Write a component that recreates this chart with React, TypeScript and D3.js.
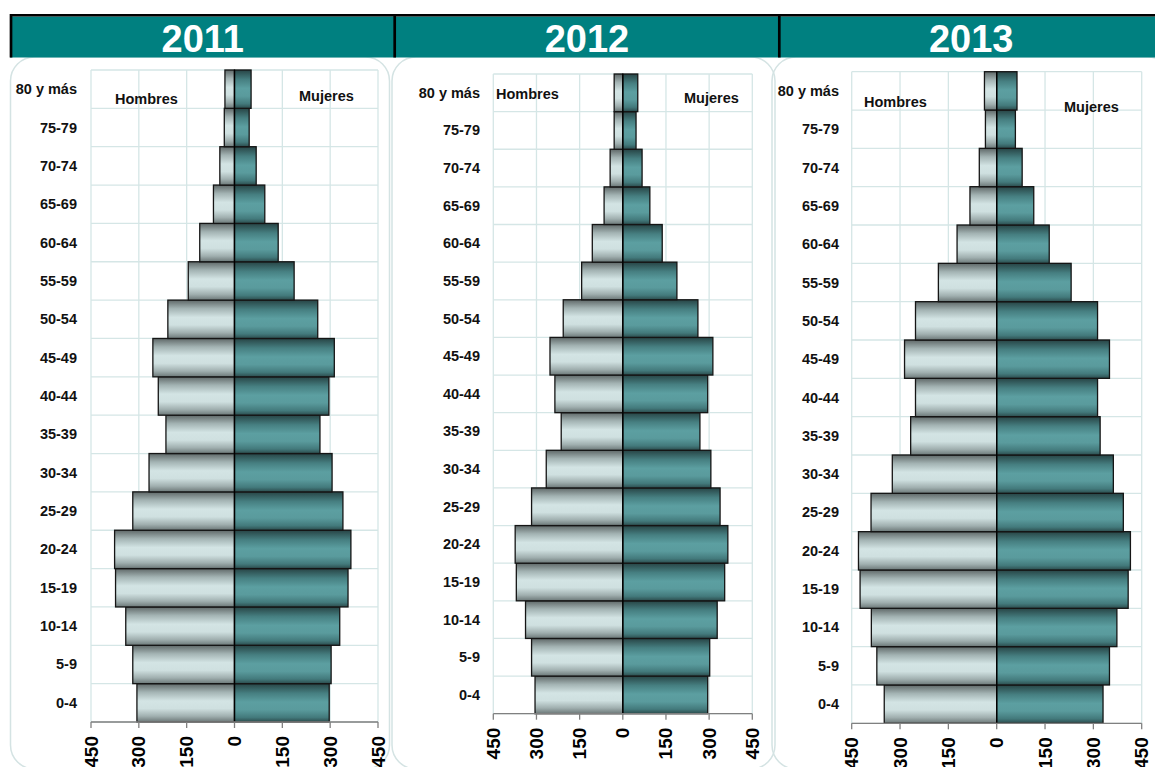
import React from "react";
import * as d3 from "d3";

const ages = ["0-4","5-9","10-14","15-19","20-24","25-29","30-34","35-39","40-44","45-49","50-54","55-59","60-64","65-69","70-74","75-79","80 y más"];

const years = ["2011", "2012", "2013"];

const men2011 = [306, 319, 341, 373, 376, 319, 268, 215, 239, 256, 209, 145, 109, 66, 46, 32, 30];
const women2011 = [297, 303, 330, 356, 365, 340, 306, 268, 296, 313, 261, 187, 137, 95, 68, 46, 52];

const men2012 = [305, 317, 338, 370, 374, 317, 266, 214, 236, 253, 207, 143, 106, 65, 44, 30, 30];
const women2012 = [295, 302, 328, 354, 365, 338, 306, 268, 295, 313, 261, 188, 137, 94, 67, 46, 52];

const men2013 = [349, 372, 389, 424, 429, 390, 324, 267, 252, 286, 252, 181, 123, 83, 54, 35, 38];
const women2013 = [330, 350, 373, 408, 415, 393, 362, 321, 313, 350, 313, 231, 163, 115, 79, 58, 63];

const tickValues = [-450, -300, -150, 0, 150, 300, 450];

const menLabel = "Hombres";
const womenLabel = "Mujeres";

const FONT = "'Liberation Sans', Arial, Helvetica, sans-serif";
const TEAL = "#008080";
const GRID = "#d5e6e6";

interface PanelLayout {
  x0: number; x1: number; top: number; bottom: number;
  labelX: number;
  hx: number; hy: number; mx: number; my: number;
  bx: number; bw: number;
  hdrX0: number; hdrX1: number;
}

const layouts: PanelLayout[] = [
  { x0: 91, x1: 378, top: 70, bottom: 722, labelX: 77, hx: 115, hy: 104, mx: 299, my: 101, bx: 10.5, bw: 379, hdrX0: 12, hdrX1: 393.5 },
  { x0: 493.3, x1: 752.3, top: 74, bottom: 713.7, labelX: 480, hx: 496, hy: 99, mx: 684, my: 103, bx: 392, bw: 383, hdrX0: 396, hdrX1: 778 },
  { x0: 851.7, x1: 1141.7, top: 71.7, bottom: 723.3, labelX: 839, hx: 864, hy: 107, mx: 1064, my: 112, bx: 772, bw: 400, hdrX0: 780.5, hdrX1: 1162 },
];

const menSeries = [men2011, men2012, men2013];
const womenSeries = [women2011, women2012, women2013];

function Panel({ idx }: { idx: number }) {
  const L = layouts[idx];
  const men = menSeries[idx];
  const women = womenSeries[idx];
  const x = d3.scaleLinear().domain([-450, 450]).range([L.x0, L.x1]);
  const y = d3.scaleBand<string>().domain([...ages].reverse()).range([L.top, L.bottom]).padding(0);
  const bw = y.bandwidth();
  const rowEdges = d3.range(ages.length + 1).map((i) => L.top + i * bw);
  return (
    <g>
      {/* grid */}
      {rowEdges.map((yy, i) => (
        <line key={"h" + i} x1={L.x0} x2={L.x1} y1={yy} y2={yy} stroke={GRID} strokeWidth={1.3} />
      ))}
      {tickValues.map((t) => (
        <line key={"v" + t} x1={x(t)} x2={x(t)} y1={L.top} y2={L.bottom} stroke={GRID} strokeWidth={1.3} />
      ))}
      {/* bars */}
      {ages.map((a, i) => (
        <g key={a}>
          <rect x={x(-men[i])} y={y(a)} width={x(0) - x(-men[i])} height={bw}
            fill="url(#gMen)" stroke="#151515" strokeWidth={1.3} />
          <rect x={x(0)} y={y(a)} width={x(women[i]) - x(0)} height={bw}
            fill="url(#gWomen)" stroke="#151515" strokeWidth={1.3} />
        </g>
      ))}
      <line x1={x(0)} x2={x(0)} y1={L.top} y2={L.bottom} stroke="#000" strokeWidth={1.3} />
      {/* axis */}
      <line x1={L.x0} x2={L.x1} y1={L.bottom} y2={L.bottom} stroke="#808080" strokeWidth={1.3} />
      {tickValues.map((t) => (
        <g key={"t" + t}>
          <line x1={x(t)} x2={x(t)} y1={L.bottom} y2={L.bottom + 6} stroke="#808080" strokeWidth={1.3} />
          <text transform={`translate(${x(t)},${L.bottom + 14}) rotate(-90)`} textAnchor="end"
            dominantBaseline="central" fontFamily={FONT} fontWeight="bold" fontSize={19} fill="#000">
            {d3.format("d")(Math.abs(t))}
          </text>
        </g>
      ))}
      {/* age labels */}
      {ages.map((a) => (
        <text key={"l" + a} x={L.labelX} y={(y(a) as number) + bw / 2 + 5} textAnchor="end"
          fontFamily={FONT} fontWeight="bold" fontSize={14.5} fill="#111">{a}</text>
      ))}
      <text x={L.hx} y={L.hy} fontFamily={FONT} fontWeight="bold" fontSize={14.5} fill="#111">{menLabel}</text>
      <text x={L.mx} y={L.my} fontFamily={FONT} fontWeight="bold" fontSize={14.5} fill="#111">{womenLabel}</text>
    </g>
  );
}

export default function App() {
  return (
    <svg width={1155} height={767} style={{ position: "absolute", left: 0, top: 0, background: "#fff" }}>
      <defs>
        <linearGradient id="gMen" x1="0" y1="0" x2="0" y2="1">
          <stop offset="0%" stopColor="#5f6868" />
          <stop offset="22%" stopColor="#a3b3b3" />
          <stop offset="45%" stopColor="#d3e4e4" />
          <stop offset="65%" stopColor="#cfe0e0" />
          <stop offset="85%" stopColor="#a0afaf" />
          <stop offset="100%" stopColor="#6b7777" />
        </linearGradient>
        <linearGradient id="gWomen" x1="0" y1="0" x2="0" y2="1">
          <stop offset="0%" stopColor="#274445" />
          <stop offset="25%" stopColor="#467f81" />
          <stop offset="48%" stopColor="#5c9fa1" />
          <stop offset="68%" stopColor="#5a9b9d" />
          <stop offset="88%" stopColor="#437a7c" />
          <stop offset="100%" stopColor="#2b4b4c" />
        </linearGradient>
      </defs>
      {/* panel frames */}
      {layouts.map((L, i) => (
        <rect key={"f" + i} x={L.bx} y={57} width={L.bw} height={712} rx={24} ry={24}
          fill="none" stroke="#d4e3e3" strokeWidth={1.5} />
      ))}
      {/* header */}
      <rect x={10} y={16.5} width={1160} height={41} fill={TEAL} />
      <line x1={10} x2={1160} y1={15.3} y2={15.3} stroke="#000" strokeWidth={2.6} />
      {[11, 394.7, 779.3].map((sx) => (
        <line key={sx} x1={sx} x2={sx} y1={14} y2={57.5} stroke="#000" strokeWidth={2.7} />
      ))}
      {layouts.map((L, i) => (
        <text key={"y" + i} x={(L.hdrX0 + L.hdrX1) / 2} y={52} textAnchor="middle" fontFamily={FONT}
          fontWeight="bold" fontSize={38} fill="#fff">{years[i]}</text>
      ))}
      {layouts.map((_, i) => <Panel key={i} idx={i} />)}
    </svg>
  );
}
